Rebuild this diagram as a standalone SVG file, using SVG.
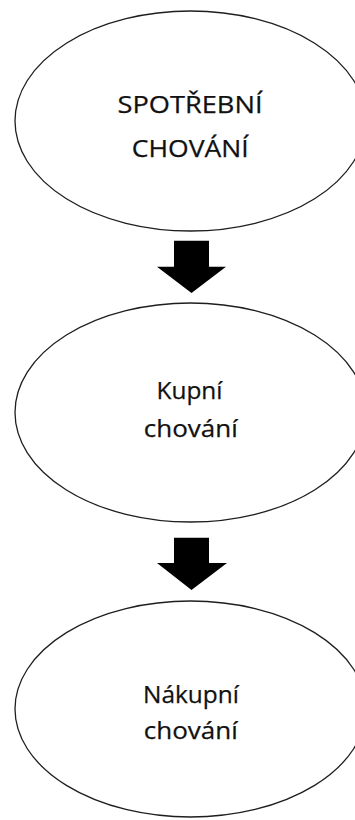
<svg xmlns="http://www.w3.org/2000/svg" width="355" height="820" viewBox="0 0 355 820">
  <defs>
    <style type="text/css">
      .shape { fill: #ffffff; stroke: #1e1e1e; stroke-width: 1.3; }
      .label { font-family: "Open Sans", "Noto Sans", "DejaVu Sans", sans-serif; font-size: 24.5px; fill: #111111; text-anchor: middle; }
      .arrow { fill: #000000; stroke: none; }
    </style>
  </defs>
  <rect x="0" y="0" width="355" height="820" fill="#ffffff"/>
  <g id="node-spotrebni">
    <ellipse class="shape" cx="190.5" cy="121" rx="175.5" ry="110" fill="#ffffff" stroke="#1e1e1e" stroke-width="1.3"/>
    <text class="label" x="190" y="113.3" textLength="145" lengthAdjust="spacingAndGlyphs" font-family="Open Sans, Noto Sans, DejaVu Sans, sans-serif" font-size="24.5" fill="#111111" stroke="#111111" stroke-width="0.25" text-anchor="middle">SPOTŘEBNÍ</text>
    <text class="label" x="190.3" y="156.7" textLength="117" lengthAdjust="spacingAndGlyphs" font-family="Open Sans, Noto Sans, DejaVu Sans, sans-serif" font-size="24.5" fill="#111111" stroke="#111111" stroke-width="0.25" text-anchor="middle">CHOVÁNÍ</text>
  </g>
  <g id="node-kupni">
    <ellipse class="shape" cx="190.5" cy="412.5" rx="175.5" ry="109.5" fill="#ffffff" stroke="#1e1e1e" stroke-width="1.3"/>
    <text class="label" x="189.5" y="399" textLength="66" lengthAdjust="spacingAndGlyphs" font-family="Open Sans, Noto Sans, DejaVu Sans, sans-serif" font-size="24.5" fill="#111111" stroke="#111111" stroke-width="0.25" text-anchor="middle">Kupní</text>
    <text class="label" x="190.8" y="436.7" textLength="94" lengthAdjust="spacingAndGlyphs" font-family="Open Sans, Noto Sans, DejaVu Sans, sans-serif" font-size="24.5" fill="#111111" stroke="#111111" stroke-width="0.25" text-anchor="middle">chování</text>
  </g>
  <g id="node-nakupni">
    <ellipse class="shape" cx="190.5" cy="709" rx="175.5" ry="108" fill="#ffffff" stroke="#1e1e1e" stroke-width="1.3"/>
    <text class="label" x="191" y="703.3" textLength="96" lengthAdjust="spacingAndGlyphs" font-family="Open Sans, Noto Sans, DejaVu Sans, sans-serif" font-size="24.5" fill="#111111" stroke="#111111" stroke-width="0.25" text-anchor="middle">Nákupní</text>
    <text class="label" x="190.8" y="739.3" textLength="94" lengthAdjust="spacingAndGlyphs" font-family="Open Sans, Noto Sans, DejaVu Sans, sans-serif" font-size="24.5" fill="#111111" stroke="#111111" stroke-width="0.25" text-anchor="middle">chování</text>
  </g>
  <g id="connectors">
    <polygon class="arrow" fill="#000000" points="174,240.7 209,240.7 209,266.7 226,266.7 191.5,293 157,266.7 174,266.7"/>
    <polygon class="arrow" fill="#000000" points="174,537.7 209,537.7 209,563 227,563 191.5,590 157,563 174,563"/>
  </g>
</svg>
